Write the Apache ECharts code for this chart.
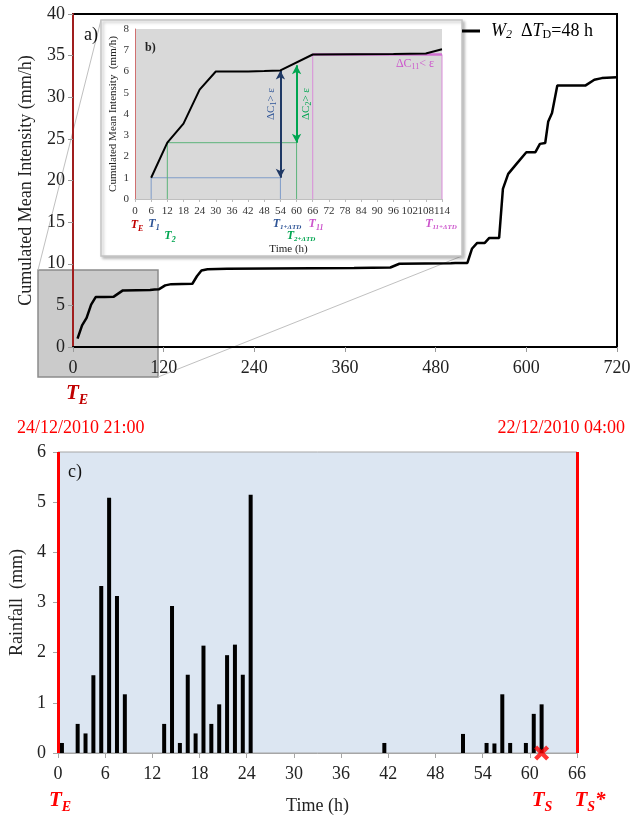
<!DOCTYPE html>
<html><head><meta charset="utf-8">
<script src="https://cdn.jsdelivr.net/npm/echarts@6/dist/echarts.min.js"></script>
<style>html,body{margin:0;padding:0;background:#fff}#c{width:635px;height:822px}</style>
</head><body><div id="c"></div><script>
// ---- data ----
const mainTime  = [6,12,18,24,30,42,54,66,102,108,114,122,130,158,164,170,178,204,372,420,432,500,506,522,528,535,545,551,564,569,576,587,600,612,618,625,629,634,641,678,690,700,720];
const mainValue = [1.0,2.6,3.5,5.1,6.0,6.0,6.05,6.8,6.85,6.9,6.95,7.4,7.55,7.6,8.5,9.2,9.35,9.4,9.5,9.55,10.0,10.05,10.1,10.1,11.8,12.5,12.5,13.1,13.1,19.0,20.8,22.0,23.4,23.4,24.4,24.5,27.1,28.1,31.4,31.4,32.1,32.3,32.4];
const insetTime  = [6,12,18,24,30,42,48,54,66,96,108,114];
const insetValue = [1.0,2.65,3.55,5.15,6.0,6.0,6.02,6.05,6.8,6.82,6.85,7.05];
const guideBlueTime = [6,54],  guideBlueValue = [1.0,6.05];
const guideGreenTime = [12,60], guideGreenValue = [2.65,6.3];
const guideMagentaTime = [66,114], guideMagentaValue = [6.8,6.8];
const rainTime  = [0.5,2.5,3.5,4.5,5.5,6.5,7.5,8.5,13.5,14.5,15.5,16.5,17.5,18.5,19.5,20.5,21.5,22.5,23.5,24.5,41.5,51.5,54.5,55.5,56.5,57.5,59.5,60.5,61.5];
const rainValue = [0.2,0.58,0.39,1.55,3.33,5.09,3.13,1.17,0.58,2.93,0.2,1.56,0.39,2.14,0.58,0.97,1.95,2.16,1.56,5.15,0.2,0.38,0.2,0.19,1.17,0.2,0.2,0.78,0.97];
const rainBounds = [0,66];
const stopTime = [61.5], stopValue = [0];
const topXTicks = {min:0,max:720,interval:120};
const topYTicks = {min:0,max:40,interval:5};
const insetXTicks = {min:0,max:114,interval:6};
const insetYTicks = {min:0,max:8,interval:1};
const rainXTicks = {min:0,max:66,interval:6};
const rainYTicks = {min:0,max:6,interval:1};

const serif = "'Liberation Serif','Times New Roman',serif";
const pairs = (xs, ys) => xs.map((x,i)=>[x, ys[i]]);
const chart = echarts.init(document.getElementById('c'));

function sublabel(x, y, main, sub, color, size, subSize, extra) {
  const base = {fontSize:size, fontStyle:'italic', fontWeight:'bold', fill:color, color:color, fontFamily:serif};
  const s = Object.assign({}, base, {fontSize:subSize, padding:[Math.round(size*0.55),0,0,0]});
  let text = '{m|' + main + '}{s|' + sub + '}' + (extra ? '{m|' + extra + '}' : '');
  return {type:'text', x:x, y:y, z:20, style:{text:text, rich:{m:base, s:s}, align:'center', verticalAlign:'middle', textAlign:'center', textVerticalAlign:'middle', fontFamily:serif}};
}
function rotLabel(x, y, sub, op, color) {
  const base = {fontSize:11, fill:color, color:color, fontFamily:serif};
  const s = Object.assign({}, base, {fontSize:8, padding:[6,0,0,0]});
  return {type:'text', x:x, y:y, rotation:Math.PI/2, z:20, style:{text:'{m|ΔC}{s|' + sub + '}{m|' + op + ' ε}', rich:{m:base, s:s}, align:'center', verticalAlign:'middle', textAlign:'center', textVerticalAlign:'middle'}};
}
function plain(x, y, text, size, color, align, extra) {
  return {type:'text', x:x, y:y, z:20, style:Object.assign({text:text, fontSize:size, fill:color, fontFamily:serif, align:align||'left', verticalAlign:'middle', textAlign:align||'left', textVerticalAlign:'middle'}, extra||{})};
}

const axisFont = {fontFamily:serif, fontSize:18, color:'#222'};
const insetFont = {fontFamily:serif, fontSize:11, color:'#333'};

const option = {
  animation:false,
  backgroundColor:'#fff',
  grid:[
    {left:73, top:14, width:544, height:333, show:true, borderColor:'#000', borderWidth:2, backgroundColor:'transparent'},
    {left:135, top:29, width:307, height:170, show:true, borderWidth:0, backgroundColor:'#d9d9d9'},
    {left:58, top:452, width:519, height:301, show:true, borderColor:'#a6a6a6', borderWidth:1, backgroundColor:'#dce6f2'}
  ],
  legend:{
    data:['W2'], left:462, top:22, padding:0, itemWidth:18, itemHeight:3, icon:'rect',
    formatter:function(){ return '{g|}{i|W}{s|2}{n|  Δ}{i|T}{d|D}{n|=48 h}'; },
    textStyle:{fontFamily:serif, fontSize:18, color:'#000',
      rich:{g:{width:6}, i:{fontStyle:'italic', fontSize:18, fontFamily:serif}, s:{fontStyle:'italic', fontSize:12, fontFamily:serif, padding:[8,0,0,0]}, d:{fontSize:12, fontFamily:serif, padding:[8,0,0,0]}, n:{fontSize:18, fontFamily:serif}}}
  },
  xAxis:[
    Object.assign({type:'value', gridIndex:0, axisLine:{show:true, lineStyle:{color:'#000', width:2}}, axisTick:{show:true, length:5, lineStyle:{color:'#999'}}, axisLabel:Object.assign({margin:12}, axisFont), splitLine:{show:false}}, topXTicks),
    Object.assign({type:'value', gridIndex:1, name:'Time (h)', nameLocation:'middle', nameGap:45, nameTextStyle:{fontFamily:serif, fontSize:11, color:'#222'}, axisLine:{show:true, lineStyle:{color:'#bfbfbf', width:1}}, axisTick:{show:true, length:3, lineStyle:{color:'#bbb'}}, axisLabel:Object.assign({margin:7, interval:0, hideOverlap:false}, insetFont), splitLine:{show:false}}, insetXTicks),
    Object.assign({type:'value', gridIndex:2, name:'Time (h)', nameLocation:'middle', nameGap:44, nameTextStyle:{fontFamily:serif, fontSize:18, color:'#222'}, axisLine:{show:true, lineStyle:{color:'#a6a6a6', width:1}}, axisTick:{show:true, length:5, lineStyle:{color:'#a6a6a6'}}, axisLabel:Object.assign({margin:12}, axisFont), splitLine:{show:false}}, rainXTicks)
  ],
  yAxis:[
    Object.assign({type:'value', gridIndex:0, name:'Cumulated Mean Intensity (mm/h)', nameLocation:'middle', nameGap:38, nameTextStyle:{fontFamily:serif, fontSize:18, color:'#222'}, axisLine:{show:true, lineStyle:{color:'#a01e1e', width:2}}, axisTick:{show:true, length:5, lineStyle:{color:'#999'}}, axisLabel:Object.assign({margin:8}, axisFont), splitLine:{show:false}}, topYTicks),
    Object.assign({type:'value', gridIndex:1, name:'Cumulated Mean Intensity  (mm/h)', nameLocation:'middle', nameGap:16, nameTextStyle:{fontFamily:serif, fontSize:11, color:'#222'}, axisLine:{show:true, lineStyle:{color:'#d07070', width:1}}, axisTick:{show:false}, axisLabel:Object.assign({margin:6}, insetFont), splitLine:{show:false}}, insetYTicks),
    Object.assign({type:'value', gridIndex:2, name:'Rainfall  (mm)', nameLocation:'middle', nameGap:32, nameTextStyle:{fontFamily:serif, fontSize:18, color:'#222'}, axisLine:{show:false}, axisTick:{show:true, length:5, lineStyle:{color:'#a6a6a6'}}, axisLabel:Object.assign({margin:12}, axisFont), splitLine:{show:false}}, rainYTicks)
  ],
  series:[
    {name:'W2', type:'line', xAxisIndex:0, yAxisIndex:0, data:pairs(mainTime, mainValue), showSymbol:false, symbol:'none', lineStyle:{color:'#000', width:2.5}, itemStyle:{color:'#000'}, z:5},
    {name:'inset', type:'line', xAxisIndex:1, yAxisIndex:1, data:pairs(insetTime, insetValue), showSymbol:false, symbol:'none', lineStyle:{color:'#000', width:2}, z:6},
    {name:'blueGuide', type:'line', xAxisIndex:1, yAxisIndex:1, data:[[guideBlueTime[0],0],[guideBlueTime[0],guideBlueValue[0]],[guideBlueTime[1],guideBlueValue[0]],[guideBlueTime[1],0]], showSymbol:false, symbol:'none', lineStyle:{color:'#7f9cc8', width:1}, z:4,
      markLine:{silent:true, symbol:['arrow','arrow'], symbolSize:[7,9], label:{show:false}, lineStyle:{color:'#1f3864', width:2, type:'solid'},
        data:[[{coord:[guideBlueTime[1], guideBlueValue[0]]},{coord:[guideBlueTime[1], guideBlueValue[1]]}]]}},
    {name:'greenGuide', type:'line', xAxisIndex:1, yAxisIndex:1, data:[[guideGreenTime[0],0],[guideGreenTime[0],guideGreenValue[0]],[guideGreenTime[1],guideGreenValue[0]],[guideGreenTime[1],0]], showSymbol:false, symbol:'none', lineStyle:{color:'#5cb37a', width:1}, z:4,
      markLine:{silent:true, symbol:['arrow','arrow'], symbolSize:[7,9], label:{show:false}, lineStyle:{color:'#00a550', width:2, type:'solid'},
        data:[[{coord:[guideGreenTime[1], guideGreenValue[0]]},{coord:[guideGreenTime[1], guideGreenValue[1]]}]]}},
    {name:'magentaGuide', type:'line', xAxisIndex:1, yAxisIndex:1, data:[[guideMagentaTime[0],0],[guideMagentaTime[0],guideMagentaValue[0]],[guideMagentaTime[1],guideMagentaValue[1]],[guideMagentaTime[1],0]], showSymbol:false, symbol:'none', lineStyle:{color:'#d98bd9', width:1}, z:4},
    {name:'magentaTop', type:'line', xAxisIndex:1, yAxisIndex:1, data:pairs(guideMagentaTime, guideMagentaValue), showSymbol:false, symbol:'none', lineStyle:{color:'#d070d0', width:2.5}, z:5},
    {name:'rain', type:'bar', xAxisIndex:2, yAxisIndex:2, data:pairs(rainTime, rainValue), barWidth:4, itemStyle:{color:'#000'}, z:3,
      markLine:{silent:true, symbol:['none','none'], label:{show:false}, lineStyle:{color:'#ff0000', width:3, type:'solid'}, data:rainBounds.map(b=>({xAxis:b}))}},
    {name:'stop', type:'scatter', xAxisIndex:2, yAxisIndex:2, data:pairs(stopTime, stopValue), clip:false, z:8,
      symbol:'path://M0,2 L2,0 L5,3 L8,0 L10,2 L7,5 L10,8 L8,10 L5,7 L2,10 L0,8 L3,5 Z', symbolSize:15, itemStyle:{color:'#ff0000'}}
  ],
  graphic:[
    {type:'rect', z:-5, shape:{x:38, y:270, width:120, height:107}, style:{fill:'#cbcbcb', stroke:'#8c8c8c', lineWidth:1.5}},
    {type:'line', z:-4, shape:{x1:38, y1:270, x2:101, y2:20}, style:{stroke:'#c0c0c0', lineWidth:1}},
    {type:'line', z:-4, shape:{x1:158, y1:377, x2:462, y2:256}, style:{stroke:'#c0c0c0', lineWidth:1}},
    {type:'rect', z:-3, shape:{x:101, y:20, width:361, height:236}, style:{fill:'#fff', stroke:'#c4c4c4', lineWidth:1.5, shadowBlur:3, shadowOffsetX:2, shadowOffsetY:2, shadowColor:'rgba(0,0,0,0.25)'}},
    plain(84, 35, 'a)', 18, '#111'),
    plain(145, 48, 'b)', 12, '#222', 'left', {fontWeight:'bold'}),
    plain(68, 472, 'c)', 18, '#111'),
    rotLabel(271, 104, '1', '>', '#2f5597'),
    rotLabel(306, 104, '2', '>', '#00a550'),
    (function(){ const base={fontSize:12, fill:'#cc55cc', color:'#cc55cc', fontFamily:serif}; const s=Object.assign({}, base, {fontSize:8, padding:[6,0,0,0]});
      return {type:'text', x:415, y:64, z:20, style:{text:'{m|ΔC}{s|11}{m|< ε}', rich:{m:base, s:s}, align:'center', verticalAlign:'middle', textAlign:'center', textVerticalAlign:'middle'}}; })(),
    sublabel(137, 225, 'T', 'E', '#c00000', 12, 8),
    sublabel(154, 224, 'T', '1', '#2f5597', 12, 8),
    sublabel(170, 236, 'T', '2', '#00a550', 12, 8),
    sublabel(287, 224, 'T', '1+ΔTD', '#2f5597', 12, 7),
    sublabel(301, 236, 'T', '2+ΔTD', '#00a550', 12, 7),
    sublabel(316, 224, 'T', '11', '#cc55cc', 12, 8),
    sublabel(441, 224, 'T', '11+ΔTD', '#cc55cc', 12, 7),
    sublabel(77, 394, 'T', 'E', '#c00000', 21, 14),
    plain(17, 428, '24/12/2010 21:00', 18, '#ff0000', 'left'),
    plain(625, 428, '22/12/2010 04:00', 18, '#ff0000', 'right'),
    sublabel(60, 801, 'T', 'E', '#ff0000', 21, 14),
    sublabel(542, 801, 'T', 'S', '#ff0000', 21, 14),
    sublabel(590, 801, 'T', 'S', '#ff0000', 21, 14, '*')
  ]
};
chart.setOption(option);
</script></body></html>
